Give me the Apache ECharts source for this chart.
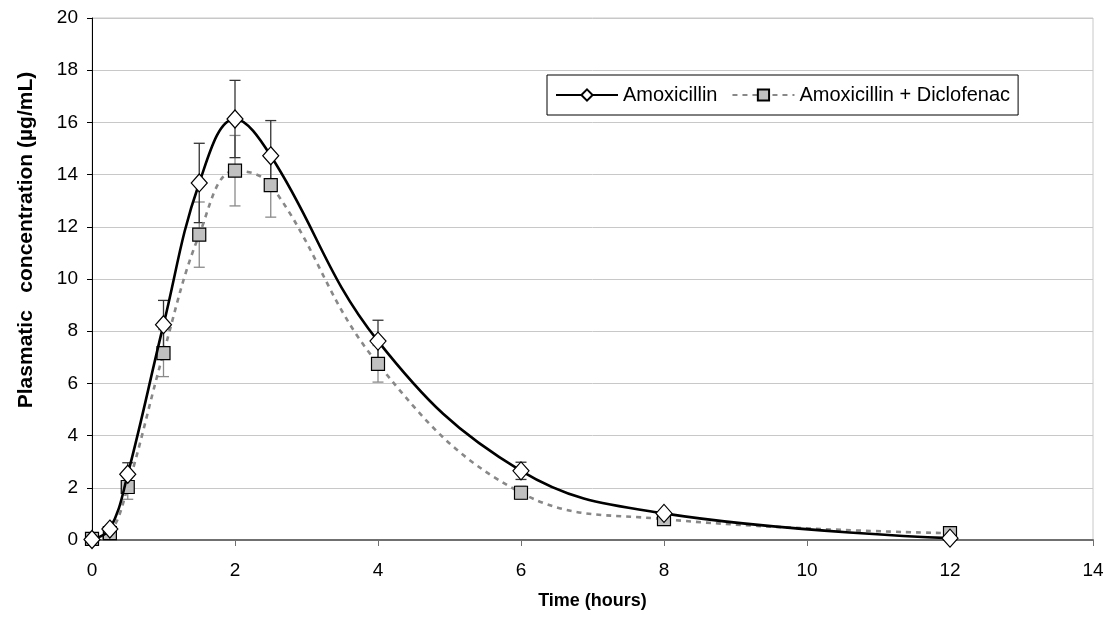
<!DOCTYPE html>
<html style="height: 100%">
<head>
    <meta charset="utf-8">
</head>
<body style="height: 100%; margin: 0; background: #fff">
<div id="main" style="width: 1115px; height: 619px"></div>
<script src="https://cdn.jsdelivr.net/npm/echarts@6/dist/echarts.min.js"></script>
<script type="text/javascript">
    // sampling times (hours)
    var times = [0, 0.25, 0.5, 1, 1.5, 2, 2.5, 4, 6, 8, 12];
    // mean concentrations (µg/mL)
    var amox = [0.02, 0.42, 2.52, 8.25, 13.68, 16.13, 14.72, 7.62, 2.65, 1.02, 0.07];
    var amoxDiclo = [0.04, 0.26, 2.03, 7.16, 11.70, 14.15, 13.60, 6.75, 1.81, 0.80, 0.26];
    // standard deviations
    var amoxSd = [0.05, 0.1, 0.44, 0.93, 1.52, 1.48, 1.35, 0.80, 0.33, 0.1, 0.05];
    var amoxDicloSd = [0.05, 0.1, 0.47, 0.90, 1.25, 1.35, 1.23, 0.70, 0.25, 0.1, 0.05];
    var yTicks = [0, 2, 4, 6, 8, 10, 12, 14, 16, 18, 20];

    function pairs(ys) {
        var out = [];
        for (var i = 0; i < times.length; i++) out.push([times[i], ys[i]]);
        return out;
    }
    function bars(ys, sd) {
        var out = [];
        for (var i = 0; i < times.length; i++) out.push([times[i], ys[i] - sd[i], ys[i] + sd[i]]);
        return out;
    }
    // vertical error bar with two caps
    function errorBar(color) {
        return function (params, api) {
            var lo = api.coord([api.value(0), api.value(1)]);
            var hi = api.coord([api.value(0), api.value(2)]);
            var w = 5.5;
            var st = {stroke: color, lineWidth: 1.3};
            return {
                type: 'group',
                children: [
                    {type: 'line', shape: {x1: lo[0], y1: lo[1], x2: hi[0], y2: hi[1]}, style: st},
                    {type: 'line', shape: {x1: lo[0] - w, y1: lo[1], x2: lo[0] + w, y2: lo[1]}, style: st},
                    {type: 'line', shape: {x1: hi[0] - w, y1: hi[1], x2: hi[0] + w, y2: hi[1]}, style: st}
                ]
            };
        };
    }

    var myChart = echarts.init(document.getElementById('main'));
    var font = 'Liberation Sans, Arial, sans-serif';
    var option = {
        animation: false,
        backgroundColor: '#fff',
        grid: {left: 92, right: 22, top: 18, bottom: 79, show: true, borderColor: '#c8c8c8', borderWidth: 1},
        legend: {
            left: 547, top: 75,
            padding: [10, 8, 10, 8],
            borderColor: '#000', borderWidth: 1,
            backgroundColor: '#fff',
            itemWidth: 62, itemHeight: 14, itemGap: 14,
            textStyle: {fontFamily: font, fontSize: 20, color: '#000'},
            data: ['Amoxicillin', 'Amoxicillin + Diclofenac']
        },
        xAxis: {
            type: 'value', min: 0, max: 14, interval: 2,
            name: 'Time (hours)', nameLocation: 'middle', nameGap: 52,
            nameTextStyle: {fontFamily: font, fontSize: 18, fontWeight: 'bold', color: '#000'},
            axisLine: {lineStyle: {color: '#707070', width: 2}},
            axisTick: {show: true, length: 6, lineStyle: {color: '#707070'}},
            axisLabel: {fontFamily: font, fontSize: 19, color: '#000', margin: 21},
            splitLine: {show: false}
        },
        yAxis: {
            type: 'value', min: 0, max: 20, interval: 2,
            name: 'Plasmatic   concentration (µg/mL)', nameLocation: 'middle', nameGap: 55,
            nameTextStyle: {fontFamily: font, fontSize: 21, fontWeight: 'bold', color: '#000',
                padding: [0, 0, 0, 78]},
            axisLine: {show: true, lineStyle: {color: '#000', width: 1}},
            axisTick: {show: true, length: 5, lineStyle: {color: '#000'}},
            axisLabel: {fontFamily: font, fontSize: 19, color: '#000', margin: 14,
                formatter: function (v) { return yTicks.indexOf(v) >= 0 ? String(v) : ''; }},
            splitLine: {lineStyle: {color: '#c8c8c8', width: 1}}
        },
        series: [
            {
                type: 'custom', z: 1, silent: true,
                renderItem: errorBar('#8a8a8a'),
                data: bars(amoxDiclo, amoxDicloSd)
            },
            {
                type: 'custom', z: 1, silent: true,
                renderItem: errorBar('#333'),
                data: bars(amox, amoxSd)
            },
            {
                name: 'Amoxicillin + Diclofenac', type: 'line', z: 3,
                smooth: 0.4,
                symbol: 'rect', symbolSize: 13,
                lineStyle: {color: '#888', width: 2.6, type: [5, 5]},
                itemStyle: {color: '#c0c0c0', borderColor: '#000', borderWidth: 1.2},
                data: pairs(amoxDiclo)
            },
            {
                name: 'Amoxicillin', type: 'line', z: 4,
                smooth: 0.4,
                symbol: 'diamond', symbolSize: [16, 18],
                lineStyle: {color: '#000', width: 2.6},
                itemStyle: {color: '#fff', borderColor: '#000', borderWidth: 1.2},
                data: pairs(amox)
            }
        ]
    };
    myChart.setOption(option);
</script>
</body>
</html>
